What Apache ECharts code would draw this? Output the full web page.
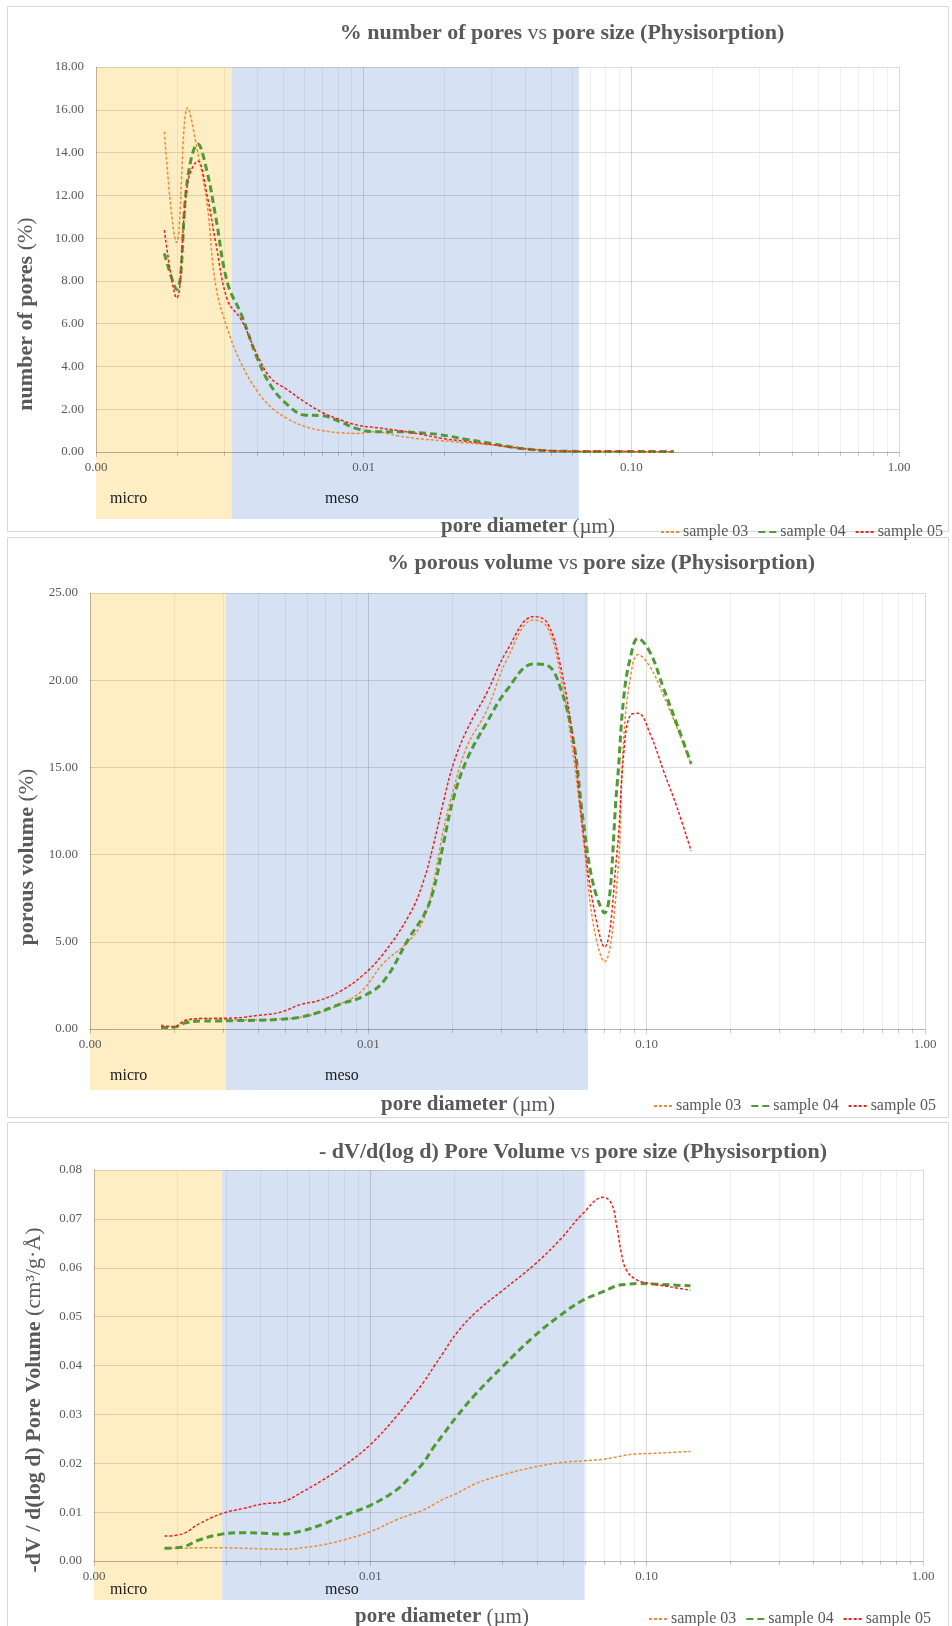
<!DOCTYPE html>
<html><head><meta charset="utf-8">
<script src="https://cdn.jsdelivr.net/npm/echarts@6/dist/echarts.min.js"></script>
<style>html,body{margin:0;padding:0;background:#fff}#c{width:952px;height:1626px}</style>
</head><body><div id="c"></div>
<script>
// ---------- DATA ----------
const seriesNames = ['sample 03', 'sample 04', 'sample 05'];

// Chart 1: % number of pores
const numX  = [0.0018, 0.0020, 0.0022, 0.0024, 0.0026, 0.0028, 0.0031, 0.0035, 0.0040, 0.0045, 0.0052, 0.0060, 0.0070, 0.0082, 0.0095, 0.0110, 0.0135, 0.0160, 0.0195, 0.0240, 0.0300, 0.0380, 0.0480, 0.0600, 0.0750, 0.0950, 0.1200, 0.1440];
const num03 = [14.97, 9.8, 16.1, 14.0, 11.6, 7.8, 5.75, 4.1, 2.85, 2.1, 1.55, 1.2, 1.0, 0.9, 0.87, 0.95, 0.75, 0.62, 0.53, 0.43, 0.33, 0.2, 0.08, 0.03, 0.02, 0.02, 0.01, 0.01];
const num04 = [9.29, 7.6, 12.8, 14.4, 13.1, 11.0, 7.9, 6.4, 4.4, 3.1, 2.2, 1.73, 1.70, 1.4, 1.08, 0.95, 0.95, 0.9, 0.8, 0.6, 0.4, 0.18, 0.06, 0.03, 0.02, 0.02, 0.02, 0.02];
const num05 = [10.38, 7.2, 12.6, 13.6, 12.0, 9.8, 7.1, 6.15, 4.55, 3.45, 2.9, 2.35, 1.85, 1.5, 1.25, 1.15, 1.0, 0.85, 0.64, 0.5, 0.35, 0.18, 0.07, 0.03, 0.02, 0.02, 0.01, 0.01];

// Chart 2: % porous volume
const volX  = [0.0018, 0.0020, 0.0022, 0.0025, 0.0028, 0.0033, 0.0040, 0.0048, 0.0057, 0.0067, 0.0080, 0.0095, 0.0113, 0.0141, 0.0158, 0.0171, 0.0186, 0.0202, 0.0226, 0.0267, 0.0315, 0.0393, 0.0439, 0.0489, 0.0546, 0.0593, 0.0645, 0.0705, 0.0783, 0.0827, 0.0874, 0.0931, 0.1030, 0.1150, 0.1286, 0.1445];
const vol03 = [0.23, 0.13, 0.45, 0.60, 0.58, 0.52, 0.52, 0.58, 0.67, 0.95, 1.45, 2.2, 3.75, 5.10, 6.3, 8.3, 11.4, 13.7, 16.2, 18.3, 21.2, 23.45, 23.05, 20.4, 15.6, 10.8, 5.9, 3.85, 8.45, 16.65, 20.14, 21.47, 20.75, 19.11, 17.26, 15.17];
const vol04 = [0.08, 0.10, 0.35, 0.46, 0.46, 0.48, 0.50, 0.55, 0.68, 0.98, 1.45, 1.85, 2.7, 5.3, 6.5, 7.9, 10.6, 13.2, 15.45, 17.6, 19.45, 20.93, 20.85, 19.6, 16.5, 11.8, 8.2, 6.65, 14.0, 19.0, 21.3, 22.4, 21.57, 19.53, 17.45, 15.21];
const vol05 = [0.17, 0.13, 0.50, 0.60, 0.61, 0.63, 0.78, 0.95, 1.40, 1.65, 2.2, 3.05, 4.3, 6.6, 8.5, 10.5, 13.0, 15.2, 17.15, 19.3, 21.7, 23.65, 23.3, 20.9, 16.4, 11.1, 7.0, 4.7, 10.2, 15.8, 18.0, 18.1, 16.9, 14.8, 12.7, 10.2];

// Chart 3: -dV/d(log d)
const dvX  = [0.0018, 0.0021, 0.0024, 0.0029, 0.0035, 0.0041, 0.0048, 0.0057, 0.0067, 0.0080, 0.0100, 0.0124, 0.0140, 0.0155, 0.0170, 0.0183, 0.0205, 0.0242, 0.0300, 0.0390, 0.0485, 0.0590, 0.0695, 0.0745, 0.0780, 0.0810, 0.0845, 0.0920, 0.1030, 0.1210, 0.1440];
const dv03 = [0.0026, 0.0026, 0.0027, 0.0027, 0.0026, 0.0025, 0.0024, 0.0027, 0.0033, 0.0043, 0.0060, 0.0084, 0.0095, 0.0104, 0.0116, 0.0126, 0.0138, 0.0159, 0.0176, 0.0192, 0.0201, 0.0205, 0.0208, 0.0211, 0.0213, 0.0215, 0.0217, 0.0219, 0.0220, 0.0222, 0.0224];
const dv04 = [0.0026, 0.0029, 0.0043, 0.0055, 0.0058, 0.0057, 0.0055, 0.0062, 0.0075, 0.0093, 0.0114, 0.0145, 0.0173, 0.0200, 0.0234, 0.0258, 0.0295, 0.0343, 0.0397, 0.0459, 0.0502, 0.0534, 0.0551, 0.0559, 0.0563, 0.0565, 0.0566, 0.0568, 0.0567, 0.0565, 0.0563];
const dv05 = [0.0051, 0.0056, 0.0076, 0.0097, 0.0108, 0.0117, 0.0121, 0.0142, 0.0165, 0.0194, 0.0238, 0.0295, 0.0332, 0.0364, 0.0398, 0.0425, 0.0466, 0.0510, 0.0553, 0.0605, 0.0657, 0.0712, 0.0744, 0.0732, 0.0684, 0.0630, 0.0595, 0.0575, 0.0568, 0.0561, 0.0554];

// micro / meso band edges (µm) per chart
const numBands = [0.001, 0.00321, 0.0637];
const volBands = [0.001, 0.00307, 0.0615];
const dvBands  = [0.001, 0.00291, 0.0596];

// log-axis minor grid values
const minorValues = [0.002,0.003,0.004,0.005,0.006,0.007,0.008,0.009,0.02,0.03,0.04,0.05,0.06,0.07,0.08,0.09,0.2,0.3,0.4,0.5,0.6,0.7,0.8,0.9];

// ---------- STYLE / LAYOUT ----------
const FONT = '"Liberation Serif", "Times New Roman", serif';
const TXT = '#595959';
const COLORS = ['#F28A30', '#4E9A33', '#F21F1F'];
const LINESTYLES = [
  {width: 1.5, type: [3, 2]},
  {width: 3, type: [7, 4]},
  {width: 1.5, type: [3, 2]}
];
const YELLOW = '#FFEEC4', BLUE = '#D6E2F3';

const grids = [
  {left: 96, top: 67, width: 803, height: 385},
  {left: 90, top: 593, width: 835, height: 436},
  {left: 94, top: 1170, width: 829, height: 391}
];
const yCfg = [{max: 18, interval: 2}, {max: 25, interval: 5}, {max: 0.08, interval: 0.01}];
const bandExt = [67, 61, 39];
const bands = [numBands, volBands, dvBands];
const chartData = [
  {x: numX, ys: [num03, num04, num05]},
  {x: volX, ys: [vol03, vol04, vol05]},
  {x: dvX,  ys: [dv03, dv04, dv05]}
];

const xAxes = [], yAxes = [], series = [];
grids.forEach((g, i) => {
  xAxes.push({
    type: 'log', logBase: 10, min: 0.001, max: 1, gridIndex: i, z: 3,
    axisLine: {show: true, lineStyle: {color: 'rgba(0,0,0,0.18)', width: 1}},
    axisTick: {show: true, length: 5, lineStyle: {color: 'rgba(0,0,0,0.2)'}},
    axisLabel: {formatter: v => v.toFixed(2), color: TXT, fontFamily: FONT, fontSize: 13, margin: 9},
    splitLine: {show: true, lineStyle: {color: 'rgba(0,0,0,0.15)', width: 1}},
    minorTick: {show: false}
  });
  yAxes.push({
    type: 'value', min: 0, max: yCfg[i].max, interval: yCfg[i].interval, gridIndex: i, z: 3,
    axisLine: {show: true, lineStyle: {color: 'rgba(0,0,0,0.13)'}},
    axisTick: {show: false},
    axisLabel: {formatter: v => v.toFixed(2), color: TXT, fontFamily: FONT, fontSize: 13, margin: 12},
    splitLine: {show: true, lineStyle: {color: 'rgba(0,0,0,0.13)', width: 1}}
  });
  const b = bands[i], ext = bandExt[i];
  series.push({
    type: 'custom', xAxisIndex: i, yAxisIndex: i, z: 1, silent: true, clip: false,
    data: [[b[0], b[1], 0], [b[1], b[2], 1]],
    renderItem: (params, api) => {
      const cs = params.coordSys;
      const x0 = api.coord([api.value(0), 0])[0];
      const x1 = api.coord([api.value(1), 0])[0];
      return {type: 'rect', shape: {x: x0, y: cs.y, width: x1 - x0, height: cs.height + ext},
              style: {fill: api.value(2) ? BLUE : YELLOW}};
    }
  });
  series.push({
    type: 'custom', xAxisIndex: i, yAxisIndex: i, z: 2, silent: true, clip: false,
    data: minorValues.map(v => [v, 0]),
    renderItem: (params, api) => {
      const cs = params.coordSys;
      const x = Math.round(api.coord([api.value(0), 0])[0]) + 0.5;
      return {type: 'group', children: [
        {type: 'line', shape: {x1: x, y1: cs.y, x2: x, y2: cs.y + cs.height}, style: {stroke: 'rgba(0,0,0,0.06)', lineWidth: 1}},
        {type: 'line', shape: {x1: x, y1: cs.y + cs.height, x2: x, y2: cs.y + cs.height + 4}, style: {stroke: 'rgba(0,0,0,0.2)', lineWidth: 1}}
      ]};
    }
  });
  const d = chartData[i];
  d.ys.forEach((ys, k) => {
    series.push({
      type: 'line', name: seriesNames[k], xAxisIndex: i, yAxisIndex: i, z: 5,
      data: d.x.map((x, j) => [x, ys[j]]),
      smooth: 0.4, symbol: 'none', showSymbol: false,
      lineStyle: Object.assign({color: COLORS[k]}, LINESTYLES[k]),
      itemStyle: {color: COLORS[k], opacity: 0}
    });
  });
});

const legendPos = [{left: 655, top: 519}, {left: 648, top: 1093}, {left: 643, top: 1606}];
const legends = legendPos.map(p => ({
  data: seriesNames, left: p.left, top: p.top, width: 420, orient: 'horizontal',
  itemWidth: 20, itemHeight: 10, itemGap: 9,
  itemStyle: {opacity: 0},
  textStyle: {color: TXT, fontFamily: FONT, fontSize: 16, padding: [0, 0, 0, -3]}, selectedMode: false
}));

const richB = (size) => ({
  b: {fontSize: size, fontWeight: 'bold', fontFamily: FONT, fill: TXT, color: TXT},
  n: {fontSize: size, fontWeight: 'normal', fontFamily: FONT, fill: TXT, color: TXT}
});
function txt(x, y, text, size, rot, align) {
  return {type: 'text', x: x, y: y, rotation: rot || 0, z: 10,
    style: {text: text, rich: richB(size), fill: TXT, font: 'bold ' + size + 'px ' + FONT,
      align: align || 'center', verticalAlign: 'middle', textAlign: align || 'center', textVerticalAlign: 'middle'}};
}
function plain(x, y, text) {
  return {type: 'text', x: x, y: y, z: 10,
    style: {text: text, fill: '#1a1a1a', font: '16px ' + FONT, align: 'left', verticalAlign: 'middle',
      textAlign: 'left', textVerticalAlign: 'middle'}};
}
const graphics = [
  {type: 'rect', shape: {x: 7.5, y: 6.5, width: 941, height: 525}, style: {fill: 'none', stroke: '#D9D9D9', lineWidth: 1}, z: 0},
  {type: 'rect', shape: {x: 7.5, y: 537.5, width: 941, height: 580}, style: {fill: 'none', stroke: '#D9D9D9', lineWidth: 1}, z: 0},
  {type: 'rect', shape: {x: 7.5, y: 1122.5, width: 941, height: 520}, style: {fill: 'none', stroke: '#D9D9D9', lineWidth: 1}, z: 0},
  txt(562, 33, '{b|% number of pores }{n|vs}{b| pore size (Physisorption)}', 22),
  txt(601, 563, '{b|% porous volume }{n|vs}{b| pore size (Physisorption)}', 22),
  txt(573, 1152, '{b|- dV/d(log d) Pore Volume }{n|vs}{b| pore size (Physisorption)}', 22),
  txt(26, 314, '{b|number of pores }{n|(%)}', 22, Math.PI / 2),
  txt(27, 857, '{b|porous volume }{n|(%)}', 22, Math.PI / 2),
  txt(34, 1400, '{b|-dV / d(log d) Pore Volume }{n|(cm³/g·Å)}', 22, Math.PI / 2),
  txt(528, 527, '{b|pore diameter }{n|(µm)}', 21),
  txt(468, 1105, '{b|pore diameter }{n|(µm)}', 21),
  txt(442, 1617, '{b|pore diameter }{n|(µm)}', 21),
  plain(110, 499, 'micro'), plain(325, 499, 'meso'),
  plain(110, 1076, 'micro'), plain(325, 1076, 'meso'),
  plain(110, 1590, 'micro'), plain(325, 1590, 'meso')
];

const chart = echarts.init(document.getElementById('c'), null, {renderer: 'canvas', width: 952, height: 1626});
chart.setOption({
  backgroundColor: '#ffffff',
  animation: false,
  textStyle: {fontFamily: FONT},
  grid: grids.map(g => Object.assign({containLabel: false}, g)),
  xAxis: xAxes, yAxis: yAxes,
  legend: legends,
  series: series,
  graphic: graphics
});
</script></body></html>
